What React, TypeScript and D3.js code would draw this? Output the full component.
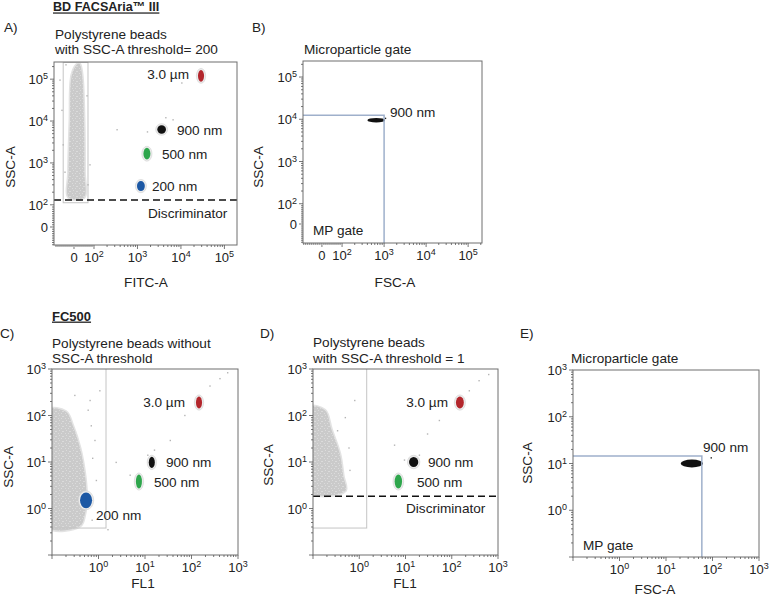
import React, { useEffect, useRef } from 'react';
import * as d3 from 'd3';

type Pt = [number, number];
type Bead = { bead: string; x: number; y: number; sdx: number; sdy: number };

// tick values
const biexMajor = [0, 1e2, 1e3, 1e4, 1e5];
const logMajor = [1, 10, 100, 1000];

// A) BD FACSAria III - FITC-A vs SSC-A, SSC-A threshold 200
const ariaBeads: Bead[] = [
  { bead: '3.0 µm', x: 29000, y: 120000, sdx: 0.07, sdy: 0.14 },
  { bead: '900 nm', x: 3600, y: 6300, sdx: 0.1, sdy: 0.1 },
  { bead: '500 nm', x: 1650, y: 1660, sdx: 0.08, sdy: 0.14 },
  { bead: '200 nm', x: 1200, y: 280, sdx: 0.09, sdy: 0.12 },
];
const ariaNoise: Pt[] = [
  [18, 230000], [-10, 130000], [-20, 10000], [-27, 600], [-26, 150],
  [50, 150], [52, 600], [50, 10000], [40, 130000], [28, 230000],
];
const ariaStray: Pt[] = [
  [340, 6200], [80, 900], [-54, 2700], [10500, 81000], [1700, 5500],
  [6600, 10700], [4500, 12000], [-70, 95000], [-60, 18000], [70, 300],
  [-45, 600], [65, 40000], [-40, 220000],
];
const ariaGate = { x: [-54, 70] as Pt, y: [112, 250000] as Pt };
const ariaThreshold = 130;

// B) BD FACSAria III - microparticle gate, FSC-A vs SSC-A
const ariaMpBeads: Bead[] = [{ bead: '900 nm', x: 650, y: 9500, sdx: 0.21, sdy: 0.055 }];
const ariaMpStray: Pt[] = [[1080, 10500]];
const ariaMpGate = { x: 1000, y: 12500 };

// C) FC500 - FL1 vs SSC-A, no threshold
const fcBeads: Bead[] = [
  { bead: '3.0 µm', x: 145, y: 190, sdx: 0.065, sdy: 0.13 },
  { bead: '900 nm', x: 14, y: 9.8, sdx: 0.065, sdy: 0.12 },
  { bead: '500 nm', x: 7.4, y: 3.8, sdx: 0.065, sdy: 0.15 },
  { bead: '200 nm', x: 0.54, y: 1.5, sdx: 0.13, sdy: 0.17 },
];
const fcNoise: Pt[] = [
  [0.08, 130], [0.2, 120], [0.28, 60], [0.4, 20], [0.5, 6], [0.55, 2],
  [0.5, 0.7], [0.4, 0.42], [0.08, 0.4],
];
const fcStray: Pt[] = [
  [0.66, 210], [1.07, 340], [0.31, 270], [2.4, 9.8], [0.84, 29], [0.73, 0.56],
  [11.5, 14], [16, 18], [4.8, 5.2], [250, 430], [410, 620], [600, 830],
  [72, 100], [35, 29], [1.6, 0.35], [0.9, 4], [0.7, 60], [0.6, 130], [0.75, 12],
];
const fcGate = { x: [0.08, 1.45] as Pt, y: [0.38, 1100] as Pt };

// D) FC500 - FL1 vs SSC-A, SSC-A threshold 1
const fcThrBeads: Bead[] = [
  { bead: '3.0 µm', x: 150, y: 190, sdx: 0.085, sdy: 0.13 },
  { bead: '900 nm', x: 15, y: 10, sdx: 0.1, sdy: 0.11 },
  { bead: '500 nm', x: 7, y: 3.8, sdx: 0.08, sdy: 0.15 },
];
const fcThrNoise: Pt[] = [
  [0.08, 150], [0.18, 130], [0.25, 50], [0.38, 15], [0.45, 5], [0.5, 2.4], [0.08, 2.3],
];
const fcThrStray: Pt[] = [
  [0.8, 210], [0.34, 47], [5.8, 23], [9.5, 11], [20, 14], [390, 560],
  [630, 760], [240, 340], [54, 78], [0.63, 6.6], [0.5, 90], [30, 40], [0.6, 20],
];
const fcThrGate = { x: [0.08, 1.45] as Pt, y: [0.38, 1100] as Pt };
const fcThreshold = 1.83;

// E) FC500 - microparticle gate, FSC-A vs SSC-A
const fcMpBeads: Bead[] = [{ bead: '900 nm', x: 36, y: 10, sdx: 0.24, sdy: 0.085 }];
const fcMpStray: Pt[] = [[94, 13.2]];
const fcMpGate = { x: 59, y: 14.5 };

const beadColor: Record<string, string> = {
  '3.0 µm': '#b3262c',
  '900 nm': '#111111',
  '500 nm': '#2ea64c',
  '200 nm': '#1c58a4',
};

const FONT = "'Liberation Sans', Arial, Helvetica, sans-serif";

interface Axis { t: (v: number) => number; s: d3.ScaleLinear<number, number>; major: number[]; minor: number[] }

const biex = (gap: number) => (v: number) => (v >= 100 ? Math.log10(v) : 2 - (gap * (100 - v)) / 100);

function biexAxis(gap: number, dom: Pt, range: Pt): Axis {
  const t = biex(gap);
  const s = d3.scaleLinear().domain(dom).range(range);
  const inside = (v: number) => t(v) >= dom[0] && t(v) <= dom[1];
  const minor = [
    ...d3.range(-90, 100, 10).filter(v => v !== 0),
    ...[2, 3, 4].flatMap(k => d3.range(2, 10).map(m => m * 10 ** k)),
    2e5,
  ].filter(inside);
  return { t, s, major: biexMajor.filter(inside), minor };
}

function logAxis(range: Pt): Axis {
  const t = (v: number) => Math.log10(v);
  const s = d3.scaleLinear().domain([-1, 3]).range(range);
  const minor = [-1, 0, 1, 2].flatMap(k => d3.range(2, 10).map(m => m * 10 ** k));
  return { t, s, major: [0.1, ...logMajor], minor };
}

interface Txt { s: string; x: number; y: number; anchor?: string; bold?: boolean; underline?: boolean; size?: number }
interface Panel {
  id: string; x: Axis; y: Axis;
  xTitle: [string, number, number]; yTitle: [string, number, number];
  beads: Bead[]; noise?: Pt[]; stray?: Pt[];
  gate?: { x: Pt; y: Pt }; mpGate?: { x: number; y: number }; threshold?: number; halo: boolean;
  texts: Txt[];
}

const panels: Panel[] = [
  {
    id: 'A', x: biexAxis(0.46, [1.08, 5.29], [54, 237]), y: biexAxis(0.53, [1.04, 5.41], [245, 62]),
    xTitle: ['FITC-A', 146, 282], yTitle: ['SSC-A', 10, 167],
    beads: ariaBeads, noise: ariaNoise, stray: ariaStray, gate: ariaGate, threshold: ariaThreshold, halo: true,
    texts: [
      { s: 'BD FACSAria™ III', x: 53, y: 7, bold: true, underline: true, size: 12.6 },
      { s: 'A)', x: 4, y: 27 },
      { s: 'Polystyrene beads', x: 55, y: 34 },
      { s: 'with SSC-A threshold= 200', x: 55, y: 49 },
      { s: '3.0 µm', x: 189, y: 74, anchor: 'end' },
      { s: '900 nm', x: 177, y: 130 },
      { s: '500 nm', x: 162, y: 154 },
      { s: '200 nm', x: 152, y: 186 },
      { s: 'Discriminator', x: 148, y: 213 },
    ],
  },
  {
    id: 'B', x: biexAxis(0.48, [1.07, 5.33], [303, 482]), y: biexAxis(0.48, [1.07, 5.38], [243, 61]),
    xTitle: ['FSC-A', 395, 282], yTitle: ['SSC-A', 258, 167],
    beads: ariaMpBeads, stray: ariaMpStray, mpGate: ariaMpGate, halo: false,
    texts: [
      { s: 'B)', x: 252, y: 27 },
      { s: 'Microparticle gate', x: 304, y: 49 },
      { s: '900 nm', x: 390, y: 112 },
      { s: 'MP gate', x: 313, y: 230 },
    ],
  },
  {
    id: 'C', x: logAxis([52, 238]), y: logAxis([555, 369]),
    xTitle: ['FL1', 143, 583], yTitle: ['SSC-A', 8, 467],
    beads: fcBeads, noise: fcNoise, stray: fcStray, gate: fcGate, halo: true,
    texts: [
      { s: 'FC500', x: 52, y: 316, bold: true, underline: true, size: 13 },
      { s: 'C)', x: 0, y: 333 },
      { s: 'Polystyrene beads without', x: 52, y: 343 },
      { s: 'SSC-A threshold', x: 52, y: 358 },
      { s: '3.0 µm', x: 185, y: 402, anchor: 'end' },
      { s: '900 nm', x: 166, y: 462 },
      { s: '500 nm', x: 154, y: 482 },
      { s: '200 nm', x: 96, y: 515 },
    ],
  },
  {
    id: 'D', x: logAxis([313, 498]), y: logAxis([555, 369]),
    xTitle: ['FL1', 405, 583], yTitle: ['SSC-A', 268, 465],
    beads: fcThrBeads, noise: fcThrNoise, stray: fcThrStray, gate: fcThrGate, threshold: fcThreshold, halo: true,
    texts: [
      { s: 'D)', x: 260, y: 333 },
      { s: 'Polystyrene beads', x: 313, y: 342 },
      { s: 'with SSC-A threshold = 1', x: 313, y: 358 },
      { s: '3.0 µm', x: 448, y: 402, anchor: 'end' },
      { s: '900 nm', x: 428, y: 462 },
      { s: '500 nm', x: 417, y: 482 },
      { s: 'Discriminator', x: 406, y: 508 },
    ],
  },
  {
    id: 'E', x: logAxis([573, 759]), y: logAxis([557, 370]),
    xTitle: ['FSC-A', 655, 589], yTitle: ['SSC-A', 527, 463],
    beads: fcMpBeads, stray: fcMpStray, mpGate: fcMpGate, halo: false,
    texts: [
      { s: 'E)', x: 520, y: 333 },
      { s: 'Microparticle gate', x: 571, y: 358 },
      { s: '900 nm', x: 703, y: 447 },
      { s: 'MP gate', x: 583, y: 545 },
    ],
  },
];

function tickLabel(sel: d3.Selection<SVGTextElement, unknown, null, undefined>, v: number) {
  if (v === 0) { sel.text('0'); return; }
  sel.append('tspan').text('10');
  sel.append('tspan').attr('dy', -5).attr('font-size', 9).text(String(Math.round(Math.log10(v))));
}

function drawPanel(svg: d3.Selection<SVGSVGElement, unknown, null, undefined>, p: Panel) {
  const X = (v: number) => p.x.s(p.x.t(v));
  const Y = (v: number) => p.y.s(p.y.t(v));
  const [x0, x1] = p.x.s.range();
  const [y1, y0] = p.y.s.range();
  const g = svg.append('g');

  g.append('clipPath').attr('id', `clip${p.id}`)
    .append('rect').attr('x', x0).attr('y', y0).attr('width', x1 - x0).attr('height', y1 - y0);
  const plot = g.append('g').attr('clip-path', `url(#clip${p.id})`);

  if (p.noise) {
    const line = d3.line<Pt>().x(d => X(d[0])).y(d => Y(d[1])).curve(d3.curveCatmullRomClosed.alpha(0.5));
    plot.append('path').attr('d', line(p.noise)).attr('fill', '#e3e3e3').attr('stroke', '#e3e3e3').attr('stroke-width', 3);
    plot.append('path').attr('d', line(p.noise)).attr('fill', 'url(#speck)');
  }
  if (p.gate) {
    plot.append('rect')
      .attr('x', X(p.gate.x[0])).attr('y', Y(p.gate.y[1]))
      .attr('width', X(p.gate.x[1]) - X(p.gate.x[0])).attr('height', Y(p.gate.y[0]) - Y(p.gate.y[1]))
      .attr('fill', 'none').attr('stroke', '#c4c4c4').attr('stroke-width', 1);
  }
  (p.stray || []).forEach(d => {
    plot.append('rect').attr('x', X(d[0]) - 0.7).attr('y', Y(d[1]) - 0.7).attr('width', 1.4).attr('height', 1.4)
      .attr('fill', p.halo ? '#b4b4b4' : '#222');
  });

  p.beads.forEach(b => {
    const cx = X(b.x), cy = Y(b.y);
    const rx = Math.abs(p.x.s(p.x.t(b.x) + b.sdx) - cx);
    const ry = Math.abs(p.y.s(p.y.t(b.y) + b.sdy) - cy);
    if (p.halo) {
      plot.append('ellipse').attr('cx', cx).attr('cy', cy).attr('rx', rx + 1.6).attr('ry', ry + 1.6)
        .attr('fill', '#ececec').attr('stroke', '#d2d2d2').attr('stroke-width', 0.6);
    }
    plot.append('ellipse').attr('cx', cx).attr('cy', cy).attr('rx', rx).attr('ry', ry)
      .attr('fill', beadColor[b.bead]);
  });

  if (p.threshold !== undefined) {
    g.append('line').attr('x1', x0).attr('x2', x1).attr('y1', Y(p.threshold)).attr('y2', Y(p.threshold))
      .attr('stroke', '#111').attr('stroke-width', 1.6).attr('stroke-dasharray', '7 4');
  }
  if (p.mpGate) {
    const gx = X(p.mpGate.x), gy = Y(p.mpGate.y);
    g.append('path').attr('d', `M${x0},${gy}H${gx}V${y1}`)
      .attr('fill', 'none').attr('stroke', '#9fb0cb').attr('stroke-width', 1.5);
  }

  g.append('rect').attr('x', x0).attr('y', y0).attr('width', x1 - x0).attr('height', y1 - y0)
    .attr('fill', 'none').attr('stroke', '#6e6e6e').attr('stroke-width', 1);

  // ticks
  const tk = g.append('g').attr('stroke', '#555').attr('stroke-width', 0.8);
  p.x.minor.forEach(v => tk.append('line').attr('x1', X(v)).attr('x2', X(v)).attr('y1', y1).attr('y2', y1 + 2));
  p.x.major.forEach(v => tk.append('line').attr('x1', X(v)).attr('x2', X(v)).attr('y1', y1).attr('y2', y1 + 4));
  p.y.minor.forEach(v => tk.append('line').attr('y1', Y(v)).attr('y2', Y(v)).attr('x1', x0).attr('x2', x0 - 2));
  p.y.major.forEach(v => tk.append('line').attr('y1', Y(v)).attr('y2', Y(v)).attr('x1', x0).attr('x2', x0 - 4));

  const labelled = (a: Axis) => a.major.filter(v => v === 0 || v >= 1);
  labelled(p.x).forEach(v => {
    const t = g.append('text').attr('x', X(v)).attr('y', y1 + 17).attr('text-anchor', 'middle')
      .attr('font-size', 13).attr('fill', '#222');
    tickLabel(t, v);
  });
  labelled(p.y).forEach(v => {
    const t = g.append('text').attr('x', x0 - 6).attr('y', Y(v) + 5).attr('text-anchor', 'end')
      .attr('font-size', 13).attr('fill', '#222');
    tickLabel(t, v);
  });

  g.append('text').attr('x', p.xTitle[1]).attr('y', p.xTitle[2]).attr('dy', '0.35em')
    .attr('text-anchor', 'middle').attr('font-size', 13.6).attr('fill', '#222').text(p.xTitle[0]);
  g.append('text').attr('transform', `translate(${p.yTitle[1]},${p.yTitle[2]}) rotate(-90)`).attr('dy', '0.35em')
    .attr('text-anchor', 'middle').attr('font-size', 13.6).attr('fill', '#222').text(p.yTitle[0]);

  p.texts.forEach(d => {
    g.append('text').attr('x', d.x).attr('y', d.y).attr('dy', '0.35em')
      .attr('text-anchor', d.anchor || 'start').attr('font-size', d.size || 13.6).attr('fill', '#222')
      .attr('font-weight', d.bold ? 'bold' : 'normal')
      .attr('text-decoration', d.underline ? 'underline' : 'none')
      .text(d.s);
  });
}

export default function App() {
  const svgRef = useRef<SVGSVGElement>(null);

  useEffect(() => {
    if (!svgRef.current) return;
    const svg = d3.select(svgRef.current);
    svg.selectAll('*').remove();

    // speckled fill for the dense noise/debris events
    const pat = svg.append('defs').append('pattern').attr('id', 'speck')
      .attr('patternUnits', 'userSpaceOnUse').attr('width', 7).attr('height', 5);
    pat.append('rect').attr('width', 7).attr('height', 5).attr('fill', '#cacaca');
    [[0, 1], [3, 0], [5, 3], [2, 3], [6, 1]].forEach(([px, py]) =>
      pat.append('rect').attr('x', px).attr('y', py).attr('width', 1).attr('height', 1).attr('fill', '#dbdbdb'));

    panels.forEach(p => drawPanel(svg, p));
  }, []);

  return (
    <svg
      ref={svgRef}
      width={770}
      height={597}
      viewBox="0 0 770 597"
      style={{ position: 'absolute', left: 0, top: 0, background: '#fff', fontFamily: FONT }}
    />
  );
}
